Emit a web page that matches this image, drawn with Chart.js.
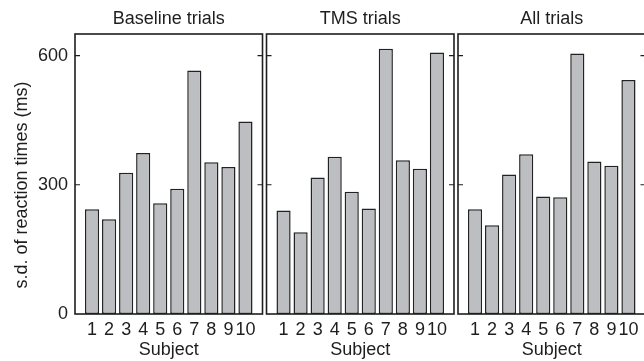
<!DOCTYPE html>
<html>
<head>
<meta charset="utf-8">
<script src="https://cdn.jsdelivr.net/npm/chart.js@4/dist/chart.umd.min.js"></script>
<style>
  html, body { margin: 0; padding: 0; background: #fff; }
  #wrap { position: relative; width: 644px; height: 361px; overflow: hidden; }
  #wrap canvas { position: absolute; left: 0; top: 0; }
</style>
</head>
<body>
<div id="wrap">
  <canvas id="c0" width="650" height="361"></canvas>
  <canvas id="c1" width="650" height="361"></canvas>
  <canvas id="c2" width="650" height="361"></canvas>
</div>
<script>
'use strict';

const subjects = [1, 2, 3, 4, 5, 6, 7, 8, 9, 10];
const baselineSD = [243, 220, 328, 374, 257, 291, 565, 352, 341, 447];
const tmsSD      = [240, 190, 317, 365, 284, 245, 616, 357, 337, 607];
const allSD      = [243, 206, 324, 371, 273, 271, 605, 354, 344, 543];
const panelTitles = ['Baseline trials', 'TMS trials', 'All trials'];
const yTicks = [0, 300, 600];
const yMax = 650;
const yLabel = 's.d. of reaction times (ms)';
const xLabel = 'Subject';

const FONT = "'Liberation Sans', Arial, Helvetica, sans-serif";
const W = 650;
const panelLeft = [75, 266.5, 458];
const panelWidth = 187.5;

// MATLAB-style box with inward ticks
const boxAxes = {
  id: 'boxAxes',
  afterDraw(chart, args, opts) {
    const ctx = chart.ctx;
    const a = chart.chartArea;
    const y = chart.scales.y;
    ctx.save();
    ctx.strokeStyle = '#1e1e1e';
    ctx.lineWidth = 1.6;
    ctx.strokeRect(a.left, a.top, a.right - a.left, a.bottom - a.top);
    ctx.lineWidth = 1.2;
    yTicks.slice(1).forEach(v => {
      const py = y.getPixelForValue(v);
      ctx.beginPath();
      ctx.moveTo(a.left, py); ctx.lineTo(a.left + 5, py);
      ctx.moveTo(a.right, py); ctx.lineTo(a.right - 5, py);
      ctx.stroke();
    });
    if (opts.label) {
      ctx.fillStyle = '#1e1e1e';
      ctx.font = '18px ' + FONT;
      ctx.textAlign = 'center';
      ctx.textBaseline = 'alphabetic';
      ctx.translate(27, 185);
      ctx.rotate(-Math.PI / 2);
      ctx.fillText(opts.label, 0, 0);
    }
    ctx.restore();
  }
};

function makePanel(id, idx, values) {
  const first = idx === 0;
  return new Chart(document.getElementById(id), {
    type: 'bar',
    data: {
      datasets: [{
        data: subjects.map((s, i) => ({ x: s, y: values[i] })),
        backgroundColor: '#bdbec2',
        borderColor: '#222222',
        borderWidth: 1.5,
        borderSkipped: false,
        categoryPercentage: 1,
        barPercentage: 0.83
      }]
    },
    options: {
      responsive: false,
      animation: false,
      layout: {
        padding: {
          left: first ? 0 : panelLeft[idx],
          right: W - panelLeft[idx] - panelWidth,
          top: 0,
          bottom: 0
        }
      },
      plugins: {
        legend: { display: false },
        tooltip: { enabled: false },
        title: {
          display: true,
          text: panelTitles[idx],
          fullSize: false,
          color: '#1e1e1e',
          font: { family: FONT, size: 18, weight: 'normal' },
          padding: { top: 8.7, bottom: 3.7 }
        },
        boxAxes: { label: first ? yLabel : null }
      },
      scales: {
        x: {
          type: 'linear',
          min: 0,
          max: 11,
          offset: false,
          grid: { display: false, drawTicks: false },
          border: { display: false },
          afterBuildTicks: s => { s.ticks = subjects.map(v => ({ value: v })); },
          afterFit: s => { s.height = 47; },
          ticks: {
            autoSkip: false,
            maxRotation: 0,
            padding: 5,
            color: '#1e1e1e',
            font: { family: FONT, size: 18 }
          },
          title: {
            display: true,
            text: xLabel,
            color: '#1e1e1e',
            font: { family: FONT, size: 18 },
            padding: { top: 0, bottom: 0 }
          }
        },
        y: {
          display: first,
          min: 0,
          max: yMax,
          grid: { display: false, drawTicks: false },
          border: { display: false },
          afterBuildTicks: s => { s.ticks = yTicks.map(v => ({ value: v })); },
          afterFit: s => { s.width = first ? 75 : 0; },
          ticks: {
            padding: 7,
            color: '#1e1e1e',
            font: { family: FONT, size: 18 }
          }
        }
      }
    },
    plugins: [boxAxes]
  });
}

makePanel('c0', 0, baselineSD);
makePanel('c1', 1, tmsSD);
makePanel('c2', 2, allSD);
</script>
</body>
</html>
